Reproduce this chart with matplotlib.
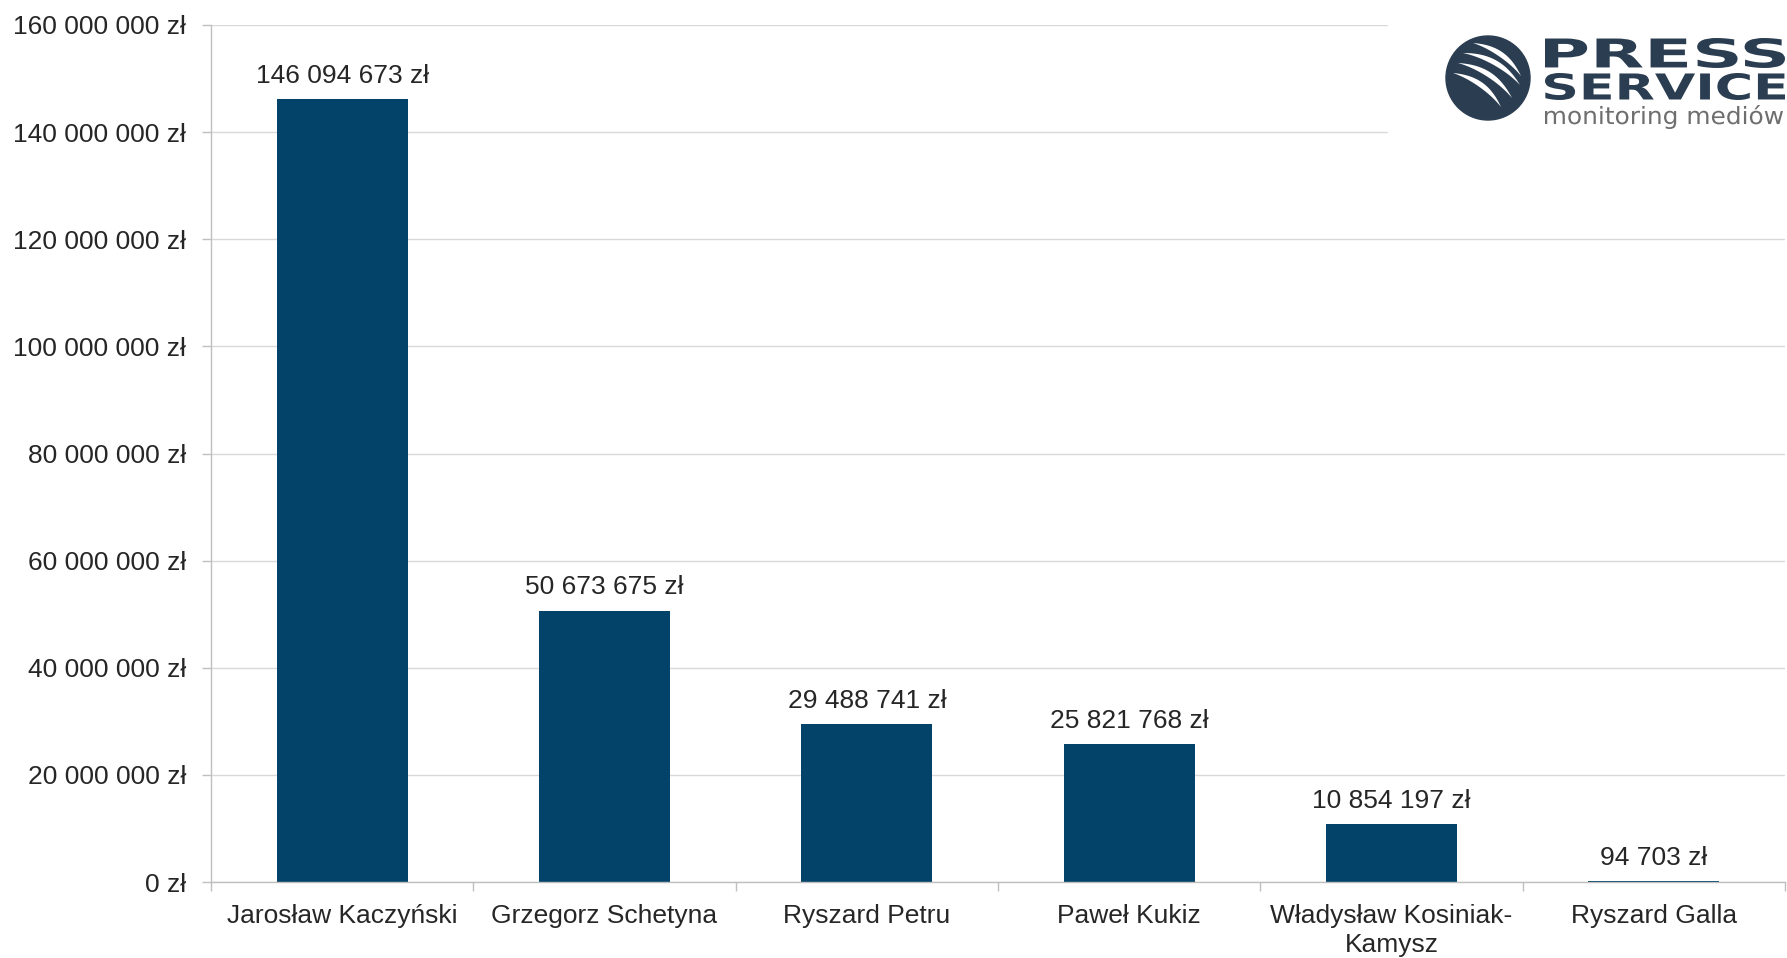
import numpy as np
import matplotlib.pyplot as plt
from matplotlib.patches import Circle, PathPatch, Rectangle, Polygon
from matplotlib.textpath import TextPath
from matplotlib.font_manager import FontProperties
from matplotlib.transforms import Affine2D

plt.rcParams['font.family'] = ['Liberation Sans', 'DejaVu Sans']

names = ["Jarosław Kaczyński", "Grzegorz Schetyna", "Ryszard Petru",
         "Paweł Kukiz", "Władysław Kosiniak-\nKamysz", "Ryszard Galla"]
values = [146094673, 50673675, 29488741, 25821768, 10854197, 94703]
yticks = list(range(0, 160000001, 20000000))

bar_color = '#03436a'
txt_color = '#262626'
W, H = 1787, 958


def zl(v):
    return f"{v:,}".replace(",", " ") + " zł"


fig = plt.figure(figsize=(W / 100, H / 100), dpi=100)
ax = fig.add_axes([211 / W, 1 - 882 / H, (1785 - 211) / W, (882 - 25) / H])

x = np.arange(len(names))
ax.bar(x, values, width=0.5, color=bar_color, zorder=3)
for xi, v in zip(x, values):
    ax.annotate(zl(v), (xi, v), xytext=(0, 8), textcoords='offset points',
                ha='center', va='bottom', fontsize=19, color=txt_color)

ax.set_xlim(-0.5, len(names) - 0.5)
ax.set_ylim(0, 160000000)
ax.set_yticks(yticks)
ax.set_yticklabels([zl(v) for v in yticks])
ax.set_xticks(x)
ax.set_xticklabels(names, fontsize=19, color=txt_color, linespacing=1.28)
ax.set_xticks(np.arange(-0.5, len(names)), minor=True)
ax.tick_params(axis='x', which='major', length=0, pad=15.5)
ax.tick_params(axis='x', which='minor', length=6.5, color='#bfbfbf', width=1)
ax.tick_params(axis='y', length=6.5, color='#bfbfbf', width=1, pad=11.5,
               labelsize=19, labelcolor=txt_color)
ax.yaxis.grid(True, color='#d9d9d9', linewidth=1, zorder=0)
for s in ['top', 'right']:
    ax.spines[s].set_visible(False)
for s in ['left', 'bottom']:
    ax.spines[s].set_color('#bfbfbf')
    ax.spines[s].set_linewidth(1)
ax.spines['bottom'].set_zorder(4)

# logo in the top right corner, drawn in pixel coordinates (y pointing up)
lg = fig.add_axes([1388 / W, 1 - 135 / H, (W - 1388) / W, 135 / H])
lg.set_xlim(1388, W)
lg.set_ylim(H - 135, H)
lg.axis('off')
lg.add_patch(Rectangle((1388, H - 135), W - 1388, 135, color='white', zorder=0))
logo_c = '#2b3d51'
cx, cy, r = 1488, H - 78, 42
circ = Circle((cx, cy), r, color=logo_c, zorder=1)
lg.add_patch(circ)

# white swooshes: start/end relative to the circle centre
stripes = [((-15, 35), (33, 2)), ((-25, 25), (32, -7)),
           ((-30, 15), (24, -20)), ((-35, 5), (13, -29))]
t = np.linspace(0, 1, 40)
for (x0, y0), (x1, y1) in stripes:
    dx, dy = x1 - x0, y1 - y0
    nx, ny = -dy * 0.22, dx * 0.22  # bow towards upper right
    mx, my = (x0 + x1) / 2 + nx, (y0 + y1) / 2 + ny
    px = (1 - t) ** 2 * x0 + 2 * t * (1 - t) * mx + t ** 2 * x1
    py = (1 - t) ** 2 * y0 + 2 * t * (1 - t) * my + t ** 2 * y1
    w = 2.6 * np.sin(np.pi * t)
    L = np.hypot(dx, dy)
    ox, oy = -dy / L * w, dx / L * w
    pts = np.concatenate([np.c_[px + ox, py + oy], np.c_[px - ox, py - oy][::-1]])
    pts[:, 0] += cx
    pts[:, 1] += cy
    poly = Polygon(pts, closed=True, color='white', lw=0, zorder=2)
    lg.add_patch(poly)
    poly.set_clip_path(circ)


def fit_text(s, x0, x1, ytop, ybot, color, weight):
    fp = FontProperties(family='DejaVu Sans', weight=weight)
    tp = TextPath((0, 0), s, size=1, prop=fp)
    bb = tp.get_extents()
    tr = (Affine2D().translate(-bb.x0, -bb.y0)
          .scale((x1 - x0) / bb.width, (ybot - ytop) / bb.height)
          .translate(x0, H - ybot))
    lg.add_patch(PathPatch(tr.transform_path(tp), color=color, lw=0, zorder=3))


fit_text("PRESS", 1545, 1785, 38, 68, logo_c, 'heavy')
fit_text("SERVICE", 1545, 1785, 73, 100, logo_c, 'heavy')
fit_text("monitoring mediów", 1545, 1783, 105, 129, '#6e6e6e', 'normal')

fig.savefig('out.png', dpi=100)
